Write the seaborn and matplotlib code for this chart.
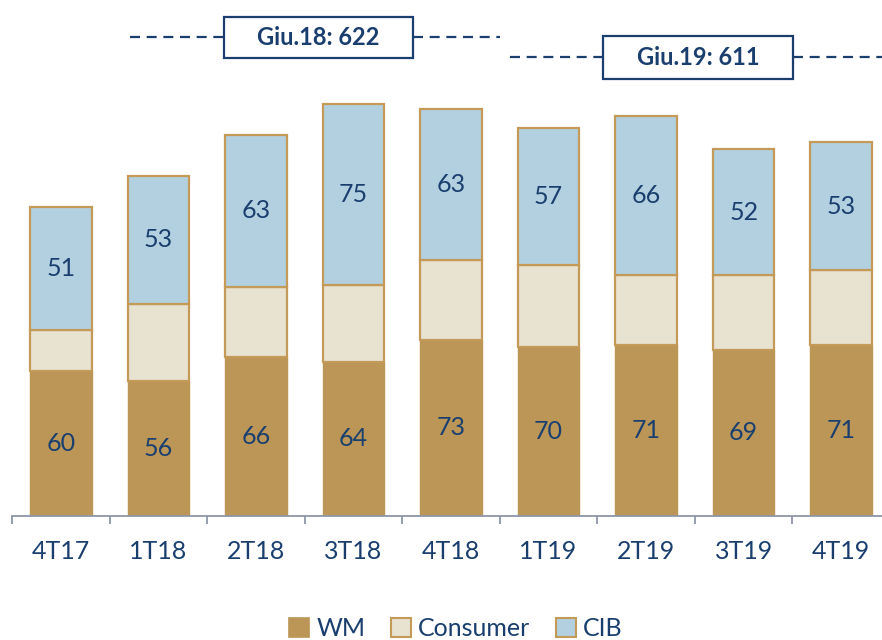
import matplotlib
matplotlib.use("Agg")
import matplotlib.pyplot as plt
import seaborn as sns
import numpy as np
from matplotlib.patches import Rectangle, Patch

categories = ["4T17", "1T18", "2T18", "3T18", "4T18", "1T19", "2T19", "3T19", "4T19"]
wm = [60, 56, 66, 64, 73, 70, 71, 69, 71]
consumer = [17, 32, 29, 32, 33, 34, 29, 31, 31]
cib = [51, 53, 63, 75, 63, 57, 66, 52, 53]
series_names = ["WM", "Consumer", "CIB"]
annotations = ["Giu.18: 622", "Giu.19: 611"]

C_WM = "#BB9656"
C_CONS = "#E8E2D1"
C_CIB = "#B3D0E0"
C_EDGE = "#C49A58"
C_TEXT = "#1A3F6F"
C_AXIS = "#8E96A8"

sns.set_style("white")
plt.rcParams["font.family"] = ["Lato", "DejaVu Sans"]

fig = plt.figure(figsize=(8.82, 6.4), dpi=100)
ax = fig.add_axes([12 / 882, 124 / 640, 878 / 882, 516 / 640])

wm_a = np.array(wm)
cons_a = np.array(consumer)
cib_a = np.array(cib)

sns.barplot(x=categories, y=wm, color=C_WM, width=0.63, edgecolor=C_WM,
            linewidth=1.0, saturation=1, ax=ax)
sns.barplot(x=categories, y=consumer, bottom=wm_a, color=C_CONS, width=0.63,
            edgecolor=C_EDGE, linewidth=1.6, saturation=1, ax=ax)
sns.barplot(x=categories, y=cib, bottom=wm_a + cons_a, color=C_CIB, width=0.63,
            edgecolor=C_EDGE, linewidth=1.6, saturation=1, ax=ax)

conts = ax.containers
ax.bar_label(conts[0], labels=[str(v) for v in wm], label_type="center",
             fontsize=18, color=C_TEXT)
ax.bar_label(conts[2], labels=[str(v) for v in cib], label_type="center",
             fontsize=18, color=C_TEXT)

ax.set_xlim(-0.5, 8.5)
ax.set_ylim(0, 214)
ax.set_yticks([])
for s in ["left", "top", "right"]:
    ax.spines[s].set_visible(False)
ax.spines["bottom"].set_color(C_AXIS)
ax.spines["bottom"].set_linewidth(1.3)
ax.set_xticks(range(len(categories)))
ax.set_xticklabels(categories, fontsize=18, color=C_TEXT)
ax.tick_params(axis="x", which="major", length=0, pad=17, bottom=True)
ax.set_xticks(np.arange(-0.5, 9.0, 1.0), minor=True)
ax.tick_params(axis="x", which="minor", length=6, width=1.3, color=C_AXIS,
               direction="out", bottom=True)
ax.set_xlabel("")
ax.set_ylabel("")

# annotation boxes with dashed lines
ann_specs = [
    (annotations[0], 1.673, 3.61, 190, 207, 0.71, 4.5),
    (annotations[1], 5.558, 7.505, 181.3, 199.2, 4.6, 8.45),
]
for txt, x0, x1, y0, y1, lx0, lx1 in ann_specs:
    ym = (y0 + y1) / 2
    ax.plot([lx0, x0], [ym, ym], color=C_TEXT, lw=1.6, ls=(0, (4.5, 3)),
            clip_on=False)
    ax.plot([x1, lx1], [ym, ym], color=C_TEXT, lw=1.6, ls=(0, (4.5, 3)),
            clip_on=False)
    ax.add_patch(Rectangle((x0, y0), x1 - x0, y1 - y0, facecolor="white",
                           edgecolor=C_TEXT, lw=1.6, clip_on=False, zorder=5))
    ax.text((x0 + x1) / 2, ym, txt, ha="center", va="center", fontsize=17,
            fontweight="bold", color=C_TEXT, zorder=6)

handles = [Patch(facecolor=C_WM, edgecolor=C_WM, lw=1.2),
           Patch(facecolor=C_CONS, edgecolor=C_EDGE, lw=1.5),
           Patch(facecolor=C_CIB, edgecolor=C_EDGE, lw=1.5)]
leg = fig.legend(handles, series_names, loc="lower center",
                 bbox_to_anchor=(456 / 882, -0.035), ncol=3, frameon=False,
                 fontsize=18, handlelength=0.8, handleheight=0.8,
                 handletextpad=0.3, columnspacing=1.0)
for t in leg.get_texts():
    t.set_color(C_TEXT)

fig.savefig("out.png", dpi=100)
